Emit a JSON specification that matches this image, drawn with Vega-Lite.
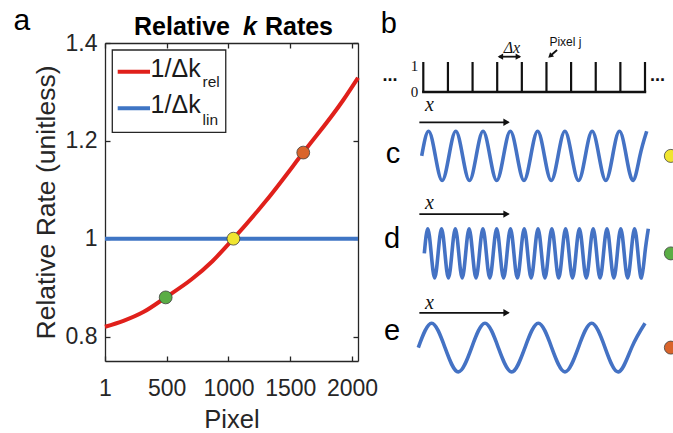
{
  "$schema": "https://vega.github.io/schema/vega-lite/v6.json",
  "width": 253,
  "height": 318,
  "autosize": {"type": "none"},
  "padding": {"left": 105, "top": 43, "right": 315, "bottom": 72},
  "background": "white",
  "config": {
    "font": "Liberation Sans",
    "view": {"stroke": null},
    "axis": {
      "domainColor": "#262626", "tickColor": "#262626", "labelColor": "#262626", "titleColor": "#262626",
      "domainWidth": 1.3, "tickWidth": 1.3, "grid": false, "tickSize": -5,
      "labelFontSize": 23, "titleFontWeight": "normal", "labelOverlap": false, "labelFlush": false,
      "labelFont": "Liberation Sans", "titleFont": "Liberation Sans"
    }
  },
  "layer": [
    {
      "layer": [
        {
          "data": {"values": [
            {"pixel": 1, "rate": 0.820}, {"pixel": 150, "rate": 0.832}, {"pixel": 311, "rate": 0.850},
            {"pixel": 492, "rate": 0.880}, {"pixel": 702, "rate": 0.917}, {"pixel": 870, "rate": 0.954},
            {"pixel": 1040, "rate": 1.0}, {"pixel": 1309, "rate": 1.079}, {"pixel": 1605, "rate": 1.176},
            {"pixel": 1929, "rate": 1.2835}, {"pixel": 2048, "rate": 1.329}
          ]},
          "mark": {"type": "line", "color": "#e0201b", "strokeWidth": 4, "interpolate": "monotone"},
          "encoding": {
            "x": {"field": "pixel", "type": "quantitative",
              "scale": {"domain": [1, 2048], "nice": false, "zero": false},
              "axis": {"orient": "bottom", "values": [1, 500, 1000, 1500, 2000], "format": "d", "title": "Pixel",
                "labelPadding": 21, "titleFontSize": 25.5, "titlePadding": 7}},
            "y": {"field": "rate", "type": "quantitative",
              "scale": {"domain": [0.75, 1.4], "nice": false, "zero": false},
              "axis": {"orient": "left", "values": [0.8, 1, 1.2, 1.4], "format": "~g", "title": "Relative Rate (unitless)",
                "labelPadding": 13, "titleFontSize": 26.5, "titlePadding": 5}}
          }
        },
        {
          "data": {"values": [{"pixel": 1, "rate": 1}, {"pixel": 2048, "rate": 1}]},
          "mark": {"type": "line", "color": "#3f75c4", "strokeWidth": 4},
          "encoding": {
            "x": {"field": "pixel", "type": "quantitative",
              "axis": {"orient": "top", "values": [1, 500, 1000, 1500, 2000], "labels": false, "title": null}},
            "y": {"field": "rate", "type": "quantitative",
              "axis": {"orient": "right", "values": [0.8, 1, 1.2, 1.4], "labels": false, "title": null}}
          }
        },
        {
          "data": {"values": [
            {"pixel": 492, "rate": 0.880, "wave": "d"},
            {"pixel": 1040, "rate": 1.0, "wave": "c"},
            {"pixel": 1605, "rate": 1.176, "wave": "e"}
          ]},
          "mark": {"type": "circle", "size": 165, "stroke": "#404040", "strokeWidth": 0.8, "opacity": 1},
          "encoding": {
            "x": {"field": "pixel", "type": "quantitative", "axis": null},
            "y": {"field": "rate", "type": "quantitative", "axis": null},
            "fill": {"field": "wave", "type": "nominal", "legend": null,
              "scale": {"domain": ["c", "d", "e"], "range": ["#f0e530", "#5aad45", "#d9642b"]}}
          }
        },
        {
          "data": {"values": [{}]},
          "mark": {"type": "rect", "fill": "white", "stroke": "#262626", "strokeWidth": 1.3},
          "encoding": {
            "x": {"datum": 60, "type": "quantitative", "axis": null},
            "x2": {"datum": 978},
            "y": {"datum": 1.3857, "type": "quantitative", "axis": null},
            "y2": {"datum": 1.2175}
          }
        },
        {
          "data": {"values": [{}]},
          "mark": {"type": "rule", "color": "#e0201b", "strokeWidth": 4},
          "encoding": {
            "x": {"datum": 103.8, "type": "quantitative", "axis": null},
            "x2": {"datum": 365.3},
            "y": {"datum": 1.3413, "type": "quantitative", "axis": null}
          }
        },
        {
          "data": {"values": [{}]},
          "mark": {"type": "rule", "color": "#3f75c4", "strokeWidth": 4},
          "encoding": {
            "x": {"datum": 103.8, "type": "quantitative", "axis": null},
            "x2": {"datum": 365.3},
            "y": {"datum": 1.2665, "type": "quantitative", "axis": null}
          }
        },
        {
          "data": {"values": [
            {"t": "1/Δk", "pixel": 370, "rate": 1.3311},
            {"t": "1/Δk", "pixel": 370, "rate": 1.2563}
          ]},
          "mark": {"type": "text", "align": "left", "baseline": "alphabetic", "fontSize": 25, "color": "#1a1a1a"},
          "encoding": {
            "x": {"field": "pixel", "type": "quantitative", "axis": null},
            "y": {"field": "rate", "type": "quantitative", "axis": null},
            "text": {"field": "t"}
          }
        },
        {
          "data": {"values": [
            {"t": "rel", "pixel": 790, "rate": 1.3107},
            {"t": "lin", "pixel": 790, "rate": 1.2324}
          ]},
          "mark": {"type": "text", "align": "left", "baseline": "alphabetic", "fontSize": 15.5, "color": "#1a1a1a"},
          "encoding": {
            "x": {"field": "pixel", "type": "quantitative", "axis": null},
            "y": {"field": "rate", "type": "quantitative", "axis": null},
            "text": {"field": "t"}
          }
        },
        {
          "data": {"values": [{"t": "Relative", "pixel": 1012, "rate": 1.4164}]},
          "mark": {"type": "text", "align": "right", "baseline": "alphabetic", "fontSize": 25, "fontWeight": "bold", "color": "#000"},
          "encoding": {
            "x": {"field": "pixel", "type": "quantitative", "axis": null},
            "y": {"field": "rate", "type": "quantitative", "axis": null},
            "text": {"field": "t"}
          }
        },
        {
          "data": {"values": [{"t": "k", "pixel": 1174, "rate": 1.4164}]},
          "mark": {"type": "text", "align": "center", "baseline": "alphabetic", "fontSize": 25, "fontWeight": "bold", "fontStyle": "italic", "color": "#000"},
          "encoding": {
            "x": {"field": "pixel", "type": "quantitative", "axis": null},
            "y": {"field": "rate", "type": "quantitative", "axis": null},
            "text": {"field": "t"}
          }
        },
        {
          "data": {"values": [{"t": "Rates", "pixel": 1295, "rate": 1.4164}]},
          "mark": {"type": "text", "align": "left", "baseline": "alphabetic", "fontSize": 25, "fontWeight": "bold", "color": "#000"},
          "encoding": {
            "x": {"field": "pixel", "type": "quantitative", "axis": null},
            "y": {"field": "rate", "type": "quantitative", "axis": null},
            "text": {"field": "t"}
          }
        },
        {
          "data": {"values": [{"t": "a", "pixel": -739, "rate": 1.4266}]},
          "mark": {"type": "text", "align": "left", "baseline": "alphabetic", "fontSize": 30, "color": "#000"},
          "encoding": {
            "x": {"field": "pixel", "type": "quantitative", "axis": null},
            "y": {"field": "rate", "type": "quantitative", "axis": null},
            "text": {"field": "t"}
          }
        }
      ]
    },
    {
      "layer": [
        {
          "data": {"values": [{"j": 0}, {"j": 1}, {"j": 2}, {"j": 3}, {"j": 4}, {"j": 5}, {"j": 6}, {"j": 7}, {"j": 8}, {"j": 9}]},
          "mark": {"type": "rule", "color": "#111111", "strokeWidth": 2.2},
          "encoding": {
            "x": {"field": "j", "type": "quantitative", "axis": null,
              "scale": {"domain": [0, 9], "range": [318.3, 540], "nice": false, "zero": false}},
            "y": {"datum": 0, "type": "quantitative", "axis": null,
              "scale": {"domain": [0, 1], "range": [49, 19], "nice": false, "zero": false}},
            "y2": {"datum": 1}
          }
        },
        {
          "data": {"values": [{}]},
          "mark": {"type": "rule", "color": "#111111", "strokeWidth": 2.4, "strokeCap": "square"},
          "encoding": {
            "x": {"datum": 0, "type": "quantitative", "axis": null},
            "x2": {"datum": 9},
            "y": {"datum": 0, "type": "quantitative", "axis": null}
          }
        },
        {
          "data": {"values": [
            {"wave":"c","u":-0.065,"v":-2.13},{"wave":"c","u":0.212,"v":-1.31},{"wave":"c","u":0.489,"v":-2.13},{"wave":"c","u":0.765,"v":-2.95},
            {"wave":"c","u":1.042,"v":-2.13},{"wave":"c","u":1.319,"v":-1.31},{"wave":"c","u":1.596,"v":-2.13},{"wave":"c","u":1.873,"v":-2.95},
            {"wave":"c","u":2.149,"v":-2.13},{"wave":"c","u":2.426,"v":-1.31},{"wave":"c","u":2.703,"v":-2.13},{"wave":"c","u":2.980,"v":-2.95},
            {"wave":"c","u":3.257,"v":-2.13},{"wave":"c","u":3.533,"v":-1.31},{"wave":"c","u":3.810,"v":-2.13},{"wave":"c","u":4.087,"v":-2.95},
            {"wave":"c","u":4.364,"v":-2.13},{"wave":"c","u":4.641,"v":-1.31},{"wave":"c","u":4.917,"v":-2.13},{"wave":"c","u":5.194,"v":-2.95},
            {"wave":"c","u":5.471,"v":-2.13},{"wave":"c","u":5.748,"v":-1.31},{"wave":"c","u":6.025,"v":-2.13},{"wave":"c","u":6.301,"v":-2.95},
            {"wave":"c","u":6.578,"v":-2.13},{"wave":"c","u":6.855,"v":-1.31},{"wave":"c","u":7.132,"v":-2.13},{"wave":"c","u":7.409,"v":-2.95},
            {"wave":"c","u":7.685,"v":-2.13},{"wave":"c","u":7.962,"v":-1.31},{"wave":"c","u":8.239,"v":-2.13},{"wave":"c","u":8.516,"v":-2.95},
            {"wave":"c","u":8.793,"v":-2.13},{"wave":"c","u":9.069,"v":-1.31},
            {"wave":"d","u":0.041,"v":-5.38},{"wave":"d","u":0.181,"v":-4.56},{"wave":"d","u":0.321,"v":-5.38},{"wave":"d","u":0.461,"v":-6.2},
            {"wave":"d","u":0.601,"v":-5.38},{"wave":"d","u":0.741,"v":-4.56},{"wave":"d","u":0.880,"v":-5.38},{"wave":"d","u":1.020,"v":-6.2},
            {"wave":"d","u":1.160,"v":-5.38},{"wave":"d","u":1.300,"v":-4.56},{"wave":"d","u":1.440,"v":-5.38},{"wave":"d","u":1.580,"v":-6.2},
            {"wave":"d","u":1.720,"v":-5.38},{"wave":"d","u":1.860,"v":-4.56},{"wave":"d","u":2.000,"v":-5.38},{"wave":"d","u":2.140,"v":-6.2},
            {"wave":"d","u":2.280,"v":-5.38},{"wave":"d","u":2.420,"v":-4.56},{"wave":"d","u":2.559,"v":-5.38},{"wave":"d","u":2.699,"v":-6.2},
            {"wave":"d","u":2.839,"v":-5.38},{"wave":"d","u":2.979,"v":-4.56},{"wave":"d","u":3.119,"v":-5.38},{"wave":"d","u":3.259,"v":-6.2},
            {"wave":"d","u":3.399,"v":-5.38},{"wave":"d","u":3.539,"v":-4.56},{"wave":"d","u":3.679,"v":-5.38},{"wave":"d","u":3.819,"v":-6.2},
            {"wave":"d","u":3.958,"v":-5.38},{"wave":"d","u":4.098,"v":-4.56},{"wave":"d","u":4.238,"v":-5.38},{"wave":"d","u":4.378,"v":-6.2},
            {"wave":"d","u":4.518,"v":-5.38},{"wave":"d","u":4.658,"v":-4.56},{"wave":"d","u":4.798,"v":-5.38},{"wave":"d","u":4.938,"v":-6.2},
            {"wave":"d","u":5.078,"v":-5.38},{"wave":"d","u":5.218,"v":-4.56},{"wave":"d","u":5.358,"v":-5.38},{"wave":"d","u":5.497,"v":-6.2},
            {"wave":"d","u":5.637,"v":-5.38},{"wave":"d","u":5.777,"v":-4.56},{"wave":"d","u":5.917,"v":-5.38},{"wave":"d","u":6.057,"v":-6.2},
            {"wave":"d","u":6.197,"v":-5.38},{"wave":"d","u":6.337,"v":-4.56},{"wave":"d","u":6.477,"v":-5.38},{"wave":"d","u":6.617,"v":-6.2},
            {"wave":"d","u":6.757,"v":-5.38},{"wave":"d","u":6.897,"v":-4.56},{"wave":"d","u":7.037,"v":-5.38},{"wave":"d","u":7.176,"v":-6.2},
            {"wave":"d","u":7.316,"v":-5.38},{"wave":"d","u":7.456,"v":-4.56},{"wave":"d","u":7.596,"v":-5.38},{"wave":"d","u":7.736,"v":-6.2},
            {"wave":"d","u":7.876,"v":-5.38},{"wave":"d","u":8.016,"v":-4.56},{"wave":"d","u":8.156,"v":-5.38},{"wave":"d","u":8.296,"v":-6.2},
            {"wave":"d","u":8.436,"v":-5.38},{"wave":"d","u":8.576,"v":-4.56},{"wave":"d","u":8.715,"v":-5.38},{"wave":"d","u":8.855,"v":-6.2},
            {"wave":"d","u":8.995,"v":-5.38},{"wave":"d","u":9.135,"v":-4.56},
            {"wave":"e","u":-0.203,"v":-8.52},{"wave":"e","u":0.338,"v":-7.71},{"wave":"e","u":0.880,"v":-8.52},{"wave":"e","u":1.421,"v":-9.33},
            {"wave":"e","u":1.963,"v":-8.52},{"wave":"e","u":2.504,"v":-7.71},{"wave":"e","u":3.045,"v":-8.52},{"wave":"e","u":3.587,"v":-9.33},
            {"wave":"e","u":4.128,"v":-8.52},{"wave":"e","u":4.670,"v":-7.71},{"wave":"e","u":5.211,"v":-8.52},{"wave":"e","u":5.752,"v":-9.33},
            {"wave":"e","u":6.294,"v":-8.52},{"wave":"e","u":6.835,"v":-7.71},{"wave":"e","u":7.377,"v":-8.52},{"wave":"e","u":7.918,"v":-9.33},
            {"wave":"e","u":8.459,"v":-8.52},{"wave":"e","u":9.001,"v":-7.71}
          ]},
          "mark": {"type": "line", "color": "#4472c4", "strokeWidth": 3.6, "interpolate": "natural"},
          "encoding": {
            "x": {"field": "u", "type": "quantitative", "axis": null},
            "y": {"field": "v", "type": "quantitative", "axis": null},
            "detail": {"field": "wave"}
          }
        },
        {
          "data": {"values": [
            {"arrow": "c", "u": -0.16, "v": -1.01}, {"arrow": "c", "u": 3.45, "v": -1.01},
            {"arrow": "d", "u": -0.16, "v": -4.07}, {"arrow": "d", "u": 3.45, "v": -4.07},
            {"arrow": "e", "u": -0.16, "v": -7.36}, {"arrow": "e", "u": 3.45, "v": -7.36},
            {"arrow": "dx", "u": 3.08, "v": 1.177}, {"arrow": "dx", "u": 3.92, "v": 1.177},
            {"arrow": "pj", "u": 5.43, "v": 1.40}, {"arrow": "pj", "u": 5.15, "v": 1.20}
          ]},
          "mark": {"type": "line", "color": "#111111", "strokeWidth": 1.8},
          "encoding": {
            "x": {"field": "u", "type": "quantitative", "axis": null},
            "y": {"field": "v", "type": "quantitative", "axis": null},
            "detail": {"field": "arrow"}
          }
        },
        {
          "data": {"values": [
            {"u": 3.38, "v": -1.01}, {"u": 3.38, "v": -4.07}, {"u": 3.38, "v": -7.36}
          ]},
          "mark": {"type": "point", "shape": "triangle-right", "filled": true, "size": 55, "color": "#111111", "opacity": 1},
          "encoding": {
            "x": {"field": "u", "type": "quantitative", "axis": null},
            "y": {"field": "v", "type": "quantitative", "axis": null}
          }
        },
        {
          "data": {"values": [{"u": 3.86, "v": 1.177}]},
          "mark": {"type": "point", "shape": "triangle-right", "filled": true, "size": 40, "color": "#111111", "opacity": 1},
          "encoding": {
            "x": {"field": "u", "type": "quantitative", "axis": null},
            "y": {"field": "v", "type": "quantitative", "axis": null}
          }
        },
        {
          "data": {"values": [{"u": 3.13, "v": 1.177}]},
          "mark": {"type": "point", "shape": "triangle-left", "filled": true, "size": 40, "color": "#111111", "opacity": 1},
          "encoding": {
            "x": {"field": "u", "type": "quantitative", "axis": null},
            "y": {"field": "v", "type": "quantitative", "axis": null}
          }
        },
        {
          "data": {"values": [{"u": 5.15, "v": 1.197}]},
          "mark": {"type": "point", "shape": "triangle-up", "angle": 228, "filled": true, "size": 35, "color": "#111111", "opacity": 1},
          "encoding": {
            "x": {"field": "u", "type": "quantitative", "axis": null},
            "y": {"field": "v", "type": "quantitative", "axis": null}
          }
        },
        {
          "data": {"values": [
            {"t": "b", "u": -1.726, "v": 1.957}, {"t": "c", "u": -1.52, "v": -2.367},
            {"t": "d", "u": -1.6, "v": -5.2}, {"t": "e", "u": -1.6, "v": -8.267}
          ]},
          "mark": {"type": "text", "align": "left", "baseline": "alphabetic", "fontSize": 29, "color": "#000"},
          "encoding": {
            "x": {"field": "u", "type": "quantitative", "axis": null},
            "y": {"field": "v", "type": "quantitative", "axis": null},
            "text": {"field": "t"}
          }
        },
        {
          "data": {"values": [{"t": "1", "u": -0.2, "v": 0.867}, {"t": "0", "u": -0.2, "v": 0.0}]},
          "mark": {"type": "text", "align": "right", "baseline": "middle", "fontSize": 15, "font": "Liberation Serif", "color": "#111"},
          "encoding": {
            "x": {"field": "u", "type": "quantitative", "axis": null},
            "y": {"field": "v", "type": "quantitative", "axis": null},
            "text": {"field": "t"}
          }
        },
        {
          "data": {"values": [{"t": "...", "u": -1.35, "v": 0.367}, {"t": "...", "u": 9.51, "v": 0.367}]},
          "mark": {"type": "text", "align": "center", "baseline": "alphabetic", "fontSize": 18, "fontWeight": "bold", "color": "#111"},
          "encoding": {
            "x": {"field": "u", "type": "quantitative", "axis": null},
            "y": {"field": "v", "type": "quantitative", "axis": null},
            "text": {"field": "t"}
          }
        },
        {
          "data": {"values": [{"t": "Δx", "u": 3.6, "v": 1.3}]},
          "mark": {"type": "text", "align": "center", "baseline": "alphabetic", "fontSize": 16, "font": "Liberation Serif", "fontStyle": "italic", "color": "#111"},
          "encoding": {
            "x": {"field": "u", "type": "quantitative", "axis": null},
            "y": {"field": "v", "type": "quantitative", "axis": null},
            "text": {"field": "t"}
          }
        },
        {
          "data": {"values": [{"t": "Pixel j", "u": 5.77, "v": 1.533}]},
          "mark": {"type": "text", "align": "center", "baseline": "alphabetic", "fontSize": 12, "color": "#111"},
          "encoding": {
            "x": {"field": "u", "type": "quantitative", "axis": null},
            "y": {"field": "v", "type": "quantitative", "axis": null},
            "text": {"field": "t"}
          }
        },
        {
          "data": {"values": [
            {"t": "x", "u": 0.25, "v": -0.433}, {"t": "x", "u": 0.25, "v": -3.69}, {"t": "x", "u": 0.25, "v": -7.02}
          ]},
          "mark": {"type": "text", "align": "center", "baseline": "middle", "fontSize": 20, "font": "Liberation Serif", "fontStyle": "italic", "color": "#111"},
          "encoding": {
            "x": {"field": "u", "type": "quantitative", "axis": null},
            "y": {"field": "v", "type": "quantitative", "axis": null},
            "text": {"field": "t"}
          }
        },
        {
          "data": {"values": [
            {"u": 10.05, "v": -2.13, "wave": "c"}, {"u": 10.05, "v": -5.38, "wave": "d"}, {"u": 10.05, "v": -8.52, "wave": "e"}
          ]},
          "mark": {"type": "circle", "size": 170, "stroke": "#404040", "strokeWidth": 0.8, "opacity": 1},
          "encoding": {
            "x": {"field": "u", "type": "quantitative", "axis": null},
            "y": {"field": "v", "type": "quantitative", "axis": null},
            "fill": {"field": "wave", "type": "nominal", "legend": null}
          }
        }
      ]
    }
  ],
  "resolve": {"scale": {"x": "independent", "y": "independent"}}
}
